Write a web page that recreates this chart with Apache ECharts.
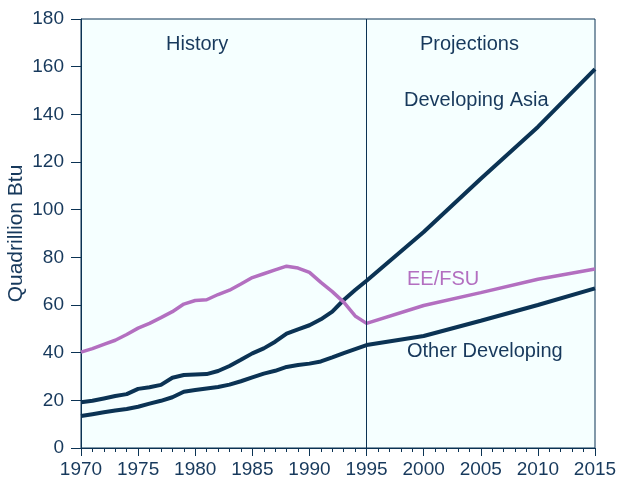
<!DOCTYPE html>
<html>
<head>
<meta charset="utf-8">
<script src="https://cdn.jsdelivr.net/npm/echarts@6/dist/echarts.min.js"></script>
<style>
html, body { margin: 0; padding: 0; background: #fff; }
#chart { width: 620px; height: 483px; }
</style>
</head>
<body>
<div id="chart"></div>
<script>
// years for history (annual) + projections (5-yearly)
var years = [1970, 1971, 1972, 1973, 1974, 1975, 1976, 1977, 1978, 1979,
             1980, 1981, 1982, 1983, 1984, 1985, 1986, 1987, 1988, 1989,
             1990, 1991, 1992, 1993, 1994, 1995, 2000, 2005, 2010, 2015];
var devAsia = [19.2, 19.8, 20.8, 21.8, 22.6, 24.8, 25.5, 26.5, 29.5, 30.6,
               30.8, 31.0, 32.3, 34.4, 37.0, 39.7, 41.8, 44.6, 48.0, 49.8,
               51.5, 54.0, 57.2, 62.1, 66.3, 70.2, 90.6, 113.0, 134.7, 159.0];
var eeFsu = [40.2, 41.7, 43.5, 45.2, 47.6, 50.3, 52.3, 54.7, 57.2, 60.4,
             61.9, 62.2, 64.4, 66.2, 68.8, 71.5, 73.1, 74.7, 76.3, 75.5,
             73.7, 69.5, 65.6, 61.2, 55.4, 52.3, 59.8, 65.2, 70.8, 75.1];
var otherDev = [13.4, 14.2, 15.0, 15.7, 16.4, 17.3, 18.6, 19.8, 21.3, 23.6,
                24.3, 25.0, 25.6, 26.6, 28.0, 29.6, 31.2, 32.4, 34.0, 34.8,
                35.4, 36.3, 38.0, 39.8, 41.5, 43.2, 47.0, 53.4, 60.0, 67.0];
var splitYear = 1995;

function pairs(vals) {
  return years.map(function (y, i) { return [y, vals[i]]; });
}

var navy = '#0b3354';
var purple = '#b36fc0';
var txt = '#17395c';
var font = 'Liberation Sans, Arial, sans-serif';
var lblFont = '20px ' + font;

var myChart = echarts.init(document.getElementById('chart'));
var option = {
  animation: false,
  grid: {
    left: 81, top: 19, right: 25, bottom: 35,
    outerBoundsMode: 'none', containLabel: false,
    show: true, backgroundColor: '#f5ffff',
    borderColor: navy, borderWidth: 1
  },
  xAxis: {
    type: 'value', min: 1970, max: 2015, interval: 5,
    axisLine: { lineStyle: { color: navy, width: 1 } },
    axisTick: { length: 8, lineStyle: { color: navy } },
    minorTick: { show: true, splitNumber: 5, length: 4, lineStyle: { color: navy } },
    splitLine: { show: false },
    axisLabel: {
      color: txt, fontSize: 19, fontFamily: font, margin: 12,
      formatter: function (v) { return String(v); }
    }
  },
  yAxis: {
    type: 'value', min: 0, max: 180, interval: 20,
    name: 'Quadrillion Btu', nameLocation: 'middle', nameGap: 54,
    nameMoveOverlap: false,
    nameTextStyle: { color: txt, fontSize: 21, fontFamily: font },
    axisLine: { show: true, lineStyle: { color: navy, width: 1 } },
    axisTick: { show: true, length: 10, lineStyle: { color: navy } },
    splitLine: { show: false },
    axisLabel: { color: txt, fontSize: 19, fontFamily: font, margin: 17 }
  },
  series: [
    {
      name: 'Developing Asia', type: 'line', data: pairs(devAsia),
      symbol: 'none', lineStyle: { color: navy, width: 4 },
      markLine: {
        silent: true, symbol: 'none', label: { show: false },
        lineStyle: { color: navy, width: 1, type: 'solid' },
        data: [{ xAxis: splitYear }]
      }
    },
    {
      name: 'EE/FSU', type: 'line', data: pairs(eeFsu),
      symbol: 'none', lineStyle: { color: purple, width: 3.5 }
    },
    {
      name: 'Other Developing', type: 'line', data: pairs(otherDev),
      symbol: 'none', lineStyle: { color: navy, width: 4 }
    }
  ],
  graphic: [
    { type: 'text', left: 166, top: 34, style: { text: 'History', fill: txt, font: lblFont } },
    { type: 'text', left: 420, top: 34, style: { text: 'Projections', fill: txt, font: lblFont } },
    { type: 'text', left: 404, top: 90, style: { text: 'Developing Asia', fill: txt, font: lblFont } },
    { type: 'text', left: 407, top: 269, style: { text: 'EE/FSU', fill: purple, font: lblFont } },
    { type: 'text', left: 407, top: 341, style: { text: 'Other Developing', fill: txt, font: lblFont } }
  ]
};
myChart.setOption(option);
</script>
</body>
</html>
